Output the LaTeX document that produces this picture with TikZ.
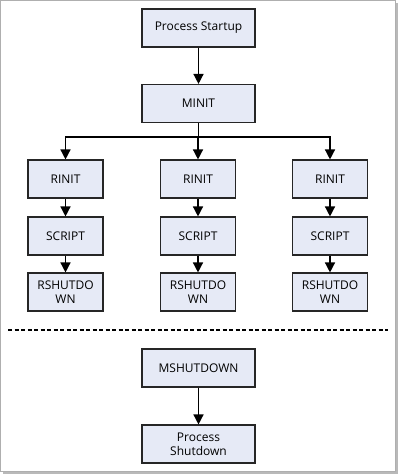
\documentclass[tikz,border=0pt]{standalone}
\usepackage{fontspec}
\setmainfont{Open Sans}
\usetikzlibrary{arrows.meta,positioning}
\definecolor{boxFill}{RGB}{230,234,246}
\definecolor{boxLine}{RGB}{38,38,38}
\definecolor{frameGray}{RGB}{175,175,175}
\tikzset{
  stagebox/.style={draw=boxLine,fill=boxFill,line width=1.1pt,minimum width=113pt,minimum height=38pt,inner sep=1pt,align=center,font=\fontsize{12}{14}\selectfont},
  reqbox/.style={stagebox,minimum width=75pt,text width=72pt},
  flow/.style={-{Triangle[length=10pt,width=10pt]},line width=1.4pt,black}
}
\begin{document}
\begin{tikzpicture}[x=1pt,y=-1pt]
  \useasboundingbox (0,0) rectangle (400,476);
  % frame with shadow
  \fill[gray!55] (3,3) rectangle (398,474);
  \draw[frameGray,fill=white,line width=0.8pt] (0.5,0.5) rectangle (395,471);
  % module startup
  \node[stagebox] (startup) at (198.5,28) {Process Startup};
  \node[stagebox] (minit) at (198.5,103.5) {MINIT};
  \draw[flow] (startup) -- (minit);
  \coordinate (split) at (198.5,137);
  % request cycles
  \foreach \i/\xc in {1/65.5,2/198,3/330}{
    \node[reqbox] (rinit\i) at (\xc,179) {RINIT};
    \node[reqbox] (script\i) at (\xc,236) {SCRIPT};
    \node[reqbox] (rshut\i) at (\xc,292) {RSHUTDO\\WN};
    \draw[flow] (minit.south) |- (split) -| (rinit\i.north);
    \draw[flow] (rinit\i) -- (script\i);
    \draw[flow] (script\i) -- (rshut\i);
  }
  % separator
  \coordinate (sepL) at (8,330);
  \coordinate (sepR) at (388,330);
  \draw[line width=1.3pt,dash pattern=on 4pt off 2.5pt] (sepL) -- (sepR);
  % module shutdown
  \node[stagebox] (mshut) at (198.5,368) {MSHUTDOWN};
  \node[stagebox] (shutdown) at (198.5,444) {Process\\Shutdown};
  \draw[flow] (mshut) -- (shutdown);
\end{tikzpicture}
\end{document}
